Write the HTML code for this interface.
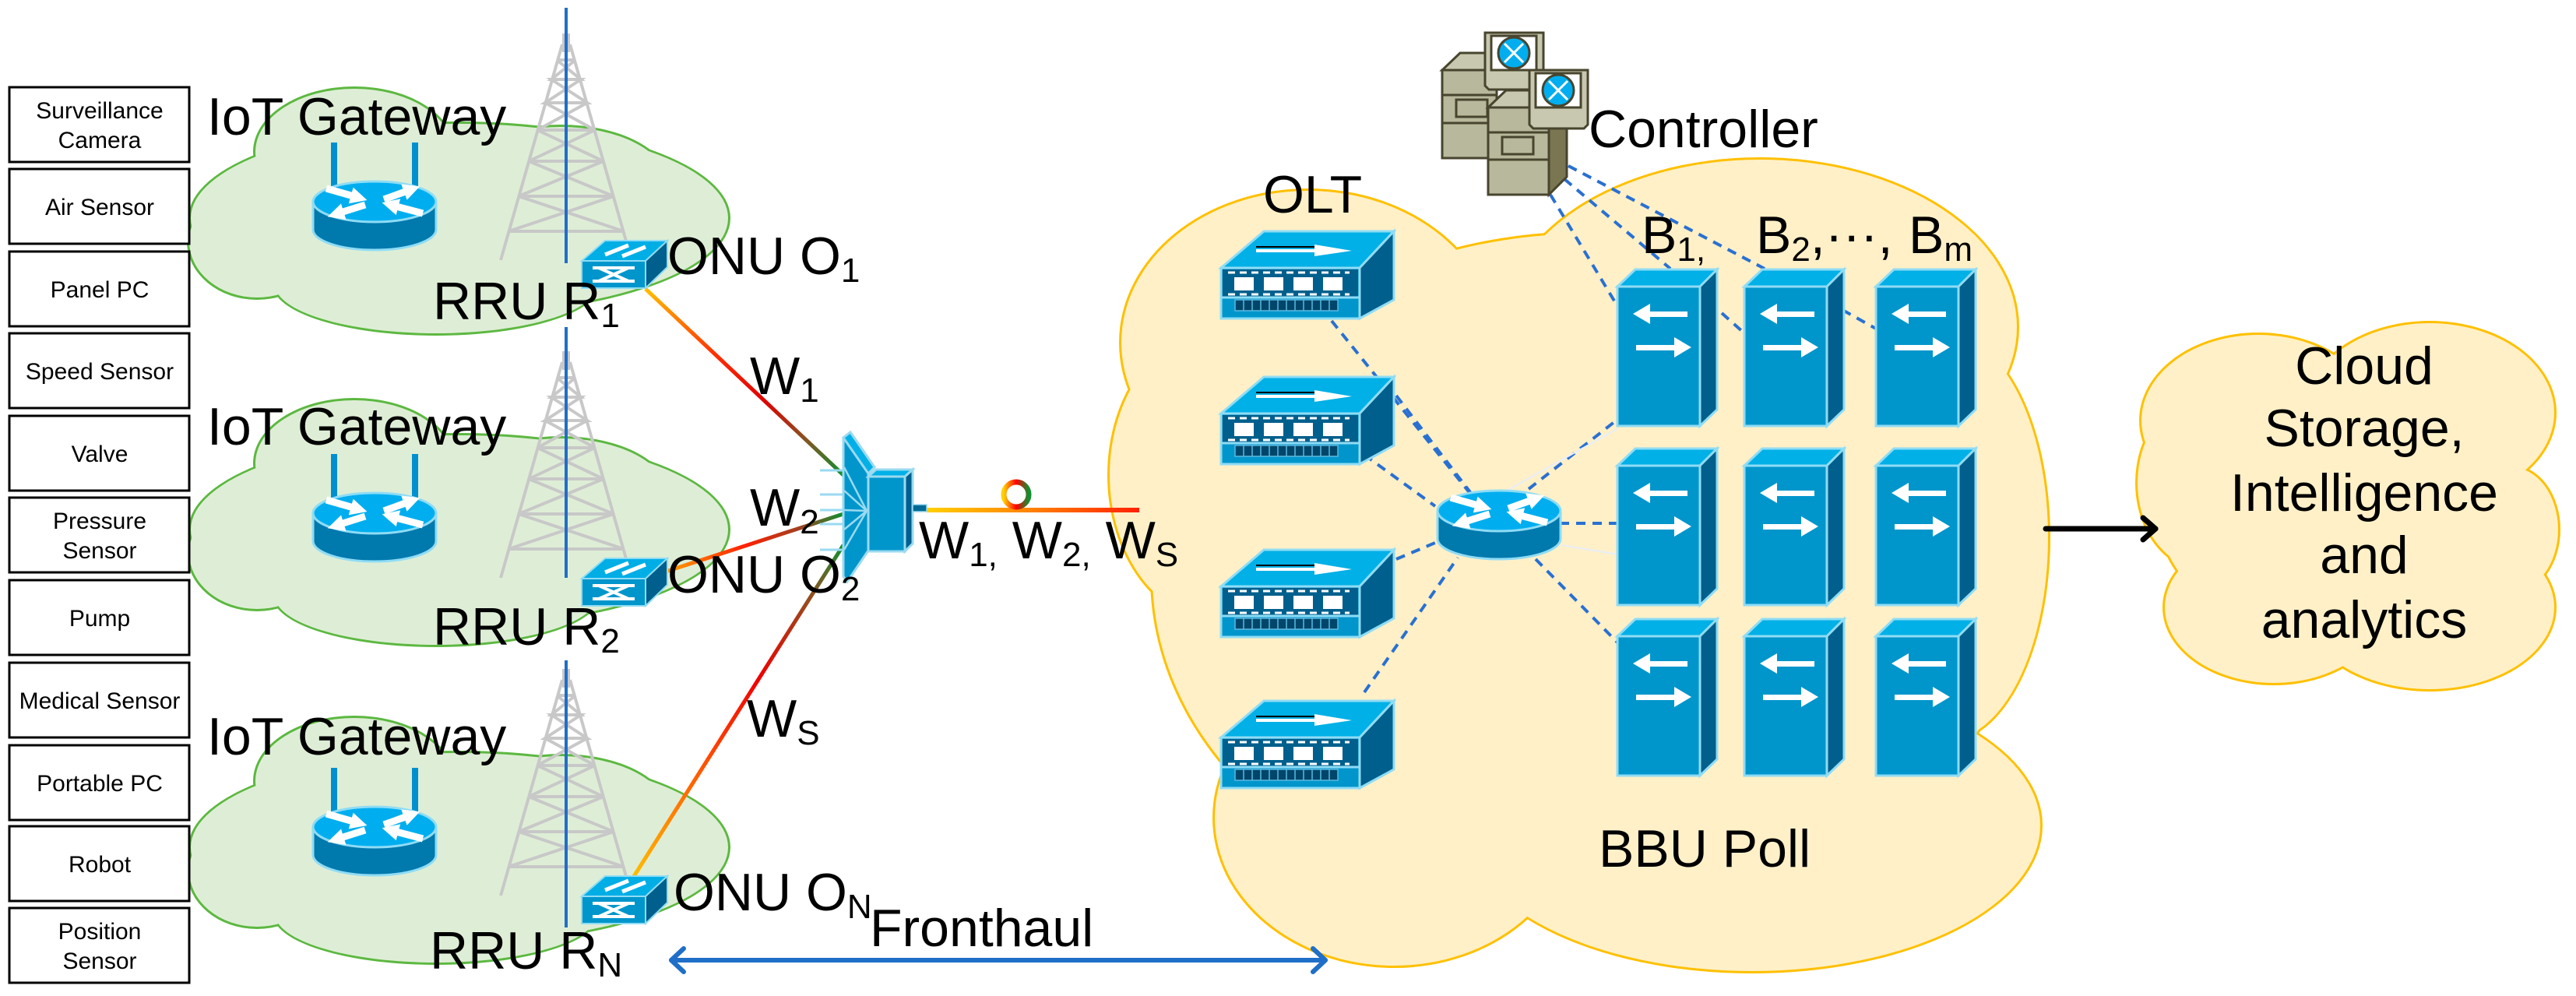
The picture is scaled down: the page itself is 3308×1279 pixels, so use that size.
<!DOCTYPE html>
<html><head><meta charset="utf-8"><style>
html,body{margin:0;padding:0;background:#fff;}
svg{display:block;}
text{font-family:"Liberation Sans",Arial,sans-serif;fill:#000;}
</style></head><body>
<svg width="3308" height="1279" viewBox="0 0 3308 1279" xmlns="http://www.w3.org/2000/svg">
<defs>
<marker id="ah" viewBox="0 0 10 10" refX="5" refY="5" markerWidth="2.4" markerHeight="2.4" orient="auto"><path d="M0,0 L10,5 L0,10 Z" fill="#fff"/></marker>
<g id="router">
 <path d="M-79,0 L-79,36 A79,26 0 0 0 79,36 L79,0 Z" fill="#0079ad" stroke="#8fdcf5" stroke-width="3"/>
 <ellipse cx="0" cy="0" rx="79" ry="26" fill="#00aeef" stroke="#8fdcf5" stroke-width="3"/>
 <g stroke="#fff" stroke-width="9" fill="none" marker-end="url(#ah)">
  <line x1="-62" y1="-17" x2="-20" y2="-5"/>
  <line x1="12" y1="-3" x2="48" y2="-16"/>
  <line x1="-12" y1="4" x2="-50" y2="16"/>
  <line x1="62" y1="15" x2="20" y2="4"/>
 </g>
</g>
<g id="tower" stroke="#c8c8c8" stroke-width="4" fill="none">
 <line x1="-5" y1="0" x2="-84" y2="277"/><line x1="5" y1="0" x2="84" y2="277"/>
 <line x1="-3" y1="-14" x2="-3" y2="10"/><line x1="3" y1="-14" x2="3" y2="10"/>
 <polyline points="-12,20 19,45 -19,45 27,75 -27,75 37,110 -37,110 48,150 -48,150 61,195 -61,195 74,240 -74,240"/>
 <polyline points="12,20 -19,45 19,45 -27,75 27,75 -37,110 37,110 -48,150 48,150 -61,195 61,195 -74,240 74,240"/>
 <line x1="-12" y1="20" x2="12" y2="20"/>
</g>
<g id="onu">
 <polygon points="0,0 30,-26 110,-26 82,0" fill="#00aee6" stroke="#8fdcf5" stroke-width="2"/>
 <polygon points="82,0 110,-26 110,8 82,35" fill="#005f8c" stroke="#8fdcf5" stroke-width="2"/>
 <rect x="0" y="0" width="82" height="35" fill="#0096cc" stroke="#8fdcf5" stroke-width="2"/>
 <g stroke="#fff" stroke-width="4"><line x1="14" y1="9" x2="68" y2="9"/><line x1="14" y1="26" x2="68" y2="26"/><line x1="22" y1="9" x2="60" y2="26"/><line x1="22" y1="26" x2="60" y2="9"/></g>
 <g stroke="#fff" stroke-width="5"><line x1="30" y1="-8" x2="60" y2="-20"/><line x1="52" y1="-6" x2="82" y2="-18"/></g>
</g>
<g id="olt">
 <polygon points="0,0 55,-47 222,-47 178,0" fill="#00b0e6" stroke="#8fdcf5" stroke-width="3"/>
 <polygon points="178,0 222,-47 222,41 178,65" fill="#005f8c" stroke="#8fdcf5" stroke-width="3"/>
 <rect x="0" y="0" width="178" height="65" fill="#0096cc" stroke="#8fdcf5" stroke-width="3"/>
 <rect x="2" y="2" width="174" height="36" fill="#005f8c"/>
 <line x1="0" y1="38" x2="178" y2="38" stroke="#8fdcf5" stroke-width="3"/>
 <g fill="#fff"><rect x="17" y="12" width="25" height="17"/><rect x="55" y="12" width="25" height="17"/><rect x="93" y="12" width="25" height="17"/><rect x="131" y="12" width="25" height="17"/></g>
 <line x1="9" y1="6" x2="165" y2="6" stroke="#fff" stroke-width="3" stroke-dasharray="9,6"/>
 <line x1="9" y1="34" x2="165" y2="34" stroke="#fff" stroke-width="3" stroke-dasharray="9,6"/>
 <rect x="18" y="41" width="132" height="14" fill="#00466a" stroke="#5ab8e0" stroke-width="1.5"/>
 <g stroke="#5ab8e0" stroke-width="1.5"><line x1="29" y1="41" x2="29" y2="55"/><line x1="40" y1="41" x2="40" y2="55"/><line x1="51" y1="41" x2="51" y2="55"/><line x1="62" y1="41" x2="62" y2="55"/><line x1="73" y1="41" x2="73" y2="55"/><line x1="84" y1="41" x2="84" y2="55"/><line x1="95" y1="41" x2="95" y2="55"/><line x1="106" y1="41" x2="106" y2="55"/><line x1="117" y1="41" x2="117" y2="55"/><line x1="128" y1="41" x2="128" y2="55"/><line x1="139" y1="41" x2="139" y2="55"/></g>
 <polygon points="45,-24 120,-24 120,-30 168,-22 120,-15 120,-20 45,-20" fill="#fff"/>
 <line x1="45" y1="-27" x2="120" y2="-27" stroke="#000" stroke-width="2"/>
</g>
<g id="bbu">
 <polygon points="0,0 23,-22 128,-22 106,0" fill="#00b0e6" stroke="#8fdcf5" stroke-width="3"/>
 <polygon points="106,0 128,-22 128,158 106,179" fill="#005f8c" stroke="#8fdcf5" stroke-width="3"/>
 <rect x="0" y="0" width="106" height="179" fill="#0096cc" stroke="#8fdcf5" stroke-width="3"/>
 <polygon points="20,35 42,22 42,32 90,32 90,39 42,39 42,48" fill="#fff"/>
 <polygon points="24,75 73,75 73,65 95,78 73,91 73,82 24,82" fill="#fff"/>
</g>
<linearGradient id="g1" gradientUnits="userSpaceOnUse" x1="829" y1="371" x2="1083" y2="610"><stop offset="0" stop-color="#ffc000"/><stop offset="0.35" stop-color="#ff3000"/><stop offset="0.6" stop-color="#e00000"/><stop offset="0.8" stop-color="#8a5020"/><stop offset="1" stop-color="#109030"/></linearGradient>
<linearGradient id="g2" gradientUnits="userSpaceOnUse" x1="855" y1="734" x2="1083" y2="660"><stop offset="0" stop-color="#ffa000"/><stop offset="0.45" stop-color="#ff2000"/><stop offset="0.75" stop-color="#a04020"/><stop offset="1" stop-color="#109030"/></linearGradient>
<linearGradient id="g3" gradientUnits="userSpaceOnUse" x1="811" y1="1130" x2="1083" y2="700"><stop offset="0" stop-color="#ffc000"/><stop offset="0.35" stop-color="#ff5000"/><stop offset="0.6" stop-color="#f00000"/><stop offset="0.85" stop-color="#905020"/><stop offset="1" stop-color="#109030"/></linearGradient>
<linearGradient id="g4" gradientUnits="userSpaceOnUse" x1="1190" y1="0" x2="1463" y2="0"><stop offset="0" stop-color="#ffd000"/><stop offset="0.5" stop-color="#ff8000"/><stop offset="1" stop-color="#ff2000"/></linearGradient>
<linearGradient id="g5" x1="0" y1="0" x2="1" y2="0"><stop offset="0" stop-color="#ffd000"/><stop offset="0.5" stop-color="#ff0000"/><stop offset="1" stop-color="#109030"/></linearGradient>
</defs>

<g id="gc">
 <g fill="#5cb840">
  <ellipse cx="590" cy="280" rx="348" ry="124"/>
  <ellipse cx="455" cy="195" rx="130" ry="84"/>
  <ellipse cx="720" cy="235" rx="140" ry="75"/>
  <ellipse cx="560" cy="365" rx="210" ry="66"/>
  <ellipse cx="330" cy="310" rx="90" ry="75"/>
 </g>
 <g fill="#deeed6">
  <ellipse cx="590" cy="280" rx="345" ry="121"/>
  <ellipse cx="455" cy="195" rx="127" ry="81"/>
  <ellipse cx="720" cy="235" rx="137" ry="72"/>
  <ellipse cx="560" cy="365" rx="207" ry="63"/>
  <ellipse cx="330" cy="310" rx="87" ry="72"/>
 </g>
</g>
<use href="#gc" transform="translate(0,400)"/>
<use href="#gc" transform="translate(0,808)"/>

<g fill="#ffc000">
 <ellipse cx="2040" cy="740" rx="563" ry="443"/>
 <ellipse cx="1680" cy="440" rx="243" ry="198"/>
 <ellipse cx="2260" cy="420" rx="333" ry="218"/>
 <ellipse cx="1565" cy="610" rx="143" ry="190"/>
 <ellipse cx="1790" cy="1050" rx="233" ry="193"/>
 <ellipse cx="2250" cy="1060" rx="373" ry="190"/>
 <ellipse cx="2500" cy="690" rx="133" ry="263"/>
</g>
<g fill="#fff0c8">
 <ellipse cx="2040" cy="740" rx="560" ry="440"/>
 <ellipse cx="1680" cy="440" rx="240" ry="195"/>
 <ellipse cx="2260" cy="420" rx="330" ry="215"/>
 <ellipse cx="1565" cy="610" rx="140" ry="187"/>
 <ellipse cx="1790" cy="1050" rx="230" ry="190"/>
 <ellipse cx="2250" cy="1060" rx="370" ry="187"/>
 <ellipse cx="2500" cy="690" rx="130" ry="260"/>
</g>

<g fill="#ffc000">
 <ellipse cx="3010" cy="650" rx="243" ry="183"/>
 <ellipse cx="2900" cy="540" rx="153" ry="113"/>
 <ellipse cx="3120" cy="530" rx="163" ry="118"/>
 <ellipse cx="2830" cy="620" rx="88" ry="113"/>
 <ellipse cx="2920" cy="780" rx="143" ry="100"/>
 <ellipse cx="3120" cy="780" rx="163" ry="108"/>
 <ellipse cx="3225" cy="680" rx="63" ry="83"/>
</g>
<g fill="#fff0c8">
 <ellipse cx="3010" cy="650" rx="240" ry="180"/>
 <ellipse cx="2900" cy="540" rx="150" ry="110"/>
 <ellipse cx="3120" cy="530" rx="160" ry="115"/>
 <ellipse cx="2830" cy="620" rx="85" ry="110"/>
 <ellipse cx="2920" cy="780" rx="140" ry="97"/>
 <ellipse cx="3120" cy="780" rx="160" ry="105"/>
 <ellipse cx="3225" cy="680" rx="60" ry="80"/>
</g>

<g fill="#fff" stroke="#000" stroke-width="3">
 <rect x="12" y="112" width="231" height="96"/><rect x="12" y="217" width="231" height="96"/>
 <rect x="12" y="323" width="231" height="96"/><rect x="12" y="428" width="231" height="96"/>
 <rect x="12" y="534" width="231" height="96"/><rect x="12" y="639" width="231" height="96"/>
 <rect x="12" y="745" width="231" height="96"/><rect x="12" y="851" width="231" height="96"/>
 <rect x="12" y="957" width="231" height="96"/><rect x="12" y="1061" width="231" height="96"/>
 <rect x="12" y="1166" width="231" height="96"/>
</g>
<g font-size="30" text-anchor="middle">
 <text x="128" y="152">Surveillance</text><text x="128" y="190">Camera</text>
 <text x="128" y="276">Air Sensor</text>
 <text x="128" y="382">Panel PC</text>
 <text x="128" y="487">Speed Sensor</text>
 <text x="128" y="593">Valve</text>
 <text x="128" y="679">Pressure</text><text x="128" y="717">Sensor</text>
 <text x="128" y="804">Pump</text>
 <text x="128" y="910">Medical Sensor</text>
 <text x="128" y="1016">Portable PC</text>
 <text x="128" y="1120">Robot</text>
 <text x="128" y="1206">Position</text><text x="128" y="1244">Sensor</text>
</g>

<use href="#tower" transform="translate(727,57)"/>
<use href="#tower" transform="translate(727,465)"/>
<use href="#tower" transform="translate(727,873)"/>
<g stroke="#1f6fc8" stroke-width="4">
 <line x1="727" y1="10" x2="727" y2="338"/><line x1="727" y1="420" x2="727" y2="742"/><line x1="727" y1="848" x2="727" y2="1191"/>
</g>

<g>
 <rect x="425" y="183" width="8" height="70" fill="#0090d0"/><rect x="529" y="183" width="8" height="70" fill="#0090d0"/>
 <use href="#router" transform="translate(481,259)"/>
 <rect x="425" y="583" width="8" height="70" fill="#0090d0"/><rect x="529" y="583" width="8" height="70" fill="#0090d0"/>
 <use href="#router" transform="translate(481,659)"/>
 <rect x="425" y="986" width="8" height="70" fill="#0090d0"/><rect x="529" y="986" width="8" height="70" fill="#0090d0"/>
 <use href="#router" transform="translate(481,1062)"/>
</g>

<line x1="829" y1="371" x2="1083" y2="610" stroke="url(#g1)" stroke-width="5"/>
<line x1="855" y1="734" x2="1083" y2="660" stroke="url(#g2)" stroke-width="5"/>
<line x1="811" y1="1130" x2="1083" y2="700" stroke="url(#g3)" stroke-width="5"/>
<line x1="1190" y1="655" x2="1463" y2="655" stroke="url(#g4)" stroke-width="6"/>
<circle cx="1305" cy="635" r="16" fill="none" stroke="url(#g5)" stroke-width="7"/>

<use href="#onu" transform="translate(747,335)"/>
<use href="#onu" transform="translate(747,743)"/>
<use href="#onu" transform="translate(747,1151)"/>

<g stroke="#9adaf0" stroke-width="3">
 <line x1="1053" y1="604" x2="1083" y2="604"/><line x1="1053" y1="635" x2="1083" y2="635"/><line x1="1053" y1="655" x2="1083" y2="655"/><line x1="1053" y1="673" x2="1083" y2="673"/><line x1="1053" y1="706" x2="1083" y2="706"/>
</g>
<polygon points="1083,562 1092,555 1123,600 1115,608 1115,707 1088,747 1083,740" fill="#0096cc" stroke="#9adaf0" stroke-width="3"/>
<polygon points="1083,562 1092,555 1123,600 1115,608" fill="#00b0e6" stroke="#9adaf0" stroke-width="3"/>
<g stroke="#9adaf0" stroke-width="2.5"><line x1="1113" y1="656" x2="1084" y2="600"/><line x1="1113" y1="656" x2="1084" y2="630"/><line x1="1113" y1="656" x2="1084" y2="655"/><line x1="1113" y1="656" x2="1084" y2="680"/><line x1="1113" y1="656" x2="1084" y2="706"/></g>
<polygon points="1115,612 1125,603 1172,603 1162,612" fill="#00b0e6" stroke="#9adaf0" stroke-width="3"/>
<polygon points="1162,612 1172,603 1172,698 1162,708" fill="#005f8c" stroke="#9adaf0" stroke-width="3"/>
<rect x="1115" y="612" width="47" height="96" fill="#0096cc" stroke="#9adaf0" stroke-width="3"/>
<rect x="1172" y="648" width="18" height="9" fill="#006a96" stroke="#9adaf0" stroke-width="1.5"/>

<g stroke="#2a70d0" stroke-width="4" stroke-dasharray="12,9" fill="none">
 <line x1="1710" y1="412" x2="1893" y2="640"/>
 <line x1="1793" y1="508" x2="1891" y2="636"/>
 <line x1="1752" y1="584" x2="1843" y2="650"/>
 <line x1="1793" y1="718" x2="1843" y2="697"/>
 <line x1="1752" y1="889" x2="1872" y2="716"/>
 <line x1="1963" y1="628" x2="2078" y2="538"/>
 <line x1="2003" y1="672" x2="2078" y2="672"/>
 <line x1="1972" y1="718" x2="2078" y2="826"/>
 <line x1="1991" y1="250" x2="2077" y2="393"/>
 <line x1="2009" y1="230" x2="2145" y2="345"/>
 <line x1="2211" y1="402" x2="2239" y2="427"/>
 <line x1="2014" y1="213" x2="2266" y2="345"/>
 <line x1="2366" y1="398" x2="2409" y2="422"/>
</g>
<g stroke="#e8eef8" stroke-width="2"><line x1="1935" y1="630" x2="2078" y2="550"/><line x1="2005" y1="700" x2="2078" y2="712"/></g>

<use href="#olt" transform="translate(1568,344)"/>
<use href="#olt" transform="translate(1568,531)"/>
<use href="#olt" transform="translate(1568,753)"/>
<use href="#olt" transform="translate(1568,947)"/>

<use href="#router" transform="translate(1925,656)"/>

<use href="#bbu" transform="translate(2077,368)"/>
<use href="#bbu" transform="translate(2240,368)"/>
<use href="#bbu" transform="translate(2409,368)"/>
<use href="#bbu" transform="translate(2077,598)"/>
<use href="#bbu" transform="translate(2240,598)"/>
<use href="#bbu" transform="translate(2409,598)"/>
<use href="#bbu" transform="translate(2077,817)"/>
<use href="#bbu" transform="translate(2240,817)"/>
<use href="#bbu" transform="translate(2409,817)"/>

<g stroke="#48452e" stroke-width="3">
 <polygon points="1852,90 1875,68 1930,68 1930,90" fill="#c8c8b0"/>
 <rect x="1852" y="90" width="70" height="113" fill="#b8b89c"/>
 <line x1="1852" y1="122" x2="1922" y2="122"/><line x1="1852" y1="158" x2="1922" y2="158"/>
 <rect x="1870" y="128" width="40" height="22" fill="#b8b89c"/>
 <polygon points="1907,42 1982,42 1982,108 1977,115 1912,115 1907,110" fill="#c8c8b0"/>
 <rect x="1915" y="46" width="58" height="44" fill="#fff"/>
 <circle cx="1944" cy="68" r="20" fill="#00aeef"/>
 <polygon points="1911,138 1934,116 2000,116 1990,138" fill="#c8c8b0"/>
 <polygon points="1989,138 2012,116 2012,227 1989,250" fill="#7a7652"/>
 <rect x="1911" y="138" width="78" height="112" fill="#b8b89c"/>
 <line x1="1911" y1="170" x2="1989" y2="170"/><line x1="1911" y1="205" x2="1989" y2="205"/>
 <rect x="1929" y="176" width="40" height="22" fill="#b8b89c"/>
 <polygon points="1964,90 2039,90 2039,160 2034,165 1969,165 1964,160" fill="#c8c8b0"/>
 <rect x="1972" y="94" width="58" height="44" fill="#fff"/>
 <circle cx="2001" cy="116" r="20" fill="#00aeef"/>
</g>
<g stroke="#fff" stroke-width="3"><line x1="1932" y1="56" x2="1956" y2="80"/><line x1="1932" y1="80" x2="1956" y2="56"/><line x1="1989" y1="104" x2="2013" y2="128"/><line x1="1989" y1="128" x2="2013" y2="104"/></g>

<g stroke="#1f6fc8" stroke-width="6" fill="none" stroke-linecap="round" stroke-linejoin="round">
 <line x1="862" y1="1233" x2="1702" y2="1233"/>
 <polyline points="878,1218 862,1233 878,1248"/>
 <polyline points="1686,1218 1702,1233 1686,1248"/>
</g>
<g stroke="#000" stroke-width="7" fill="none" stroke-linecap="round" stroke-linejoin="round">
 <line x1="2627" y1="679" x2="2768" y2="679"/>
 <polyline points="2752,665 2768,679 2752,693"/>
</g>

<g font-size="68">
 <text x="266" y="173">IoT Gateway</text>
 <text x="266" y="571">IoT Gateway</text>
 <text x="266" y="969">IoT Gateway</text>
 <text x="857" y="352">ONU O<tspan font-size="44" dy="10">1</tspan></text>
 <text x="857" y="761">ONU O<tspan font-size="44" dy="10">2</tspan></text>
 <text x="865" y="1169">ONU O<tspan font-size="44" dy="10">N</tspan></text>
 <text x="556" y="410">RRU R<tspan font-size="44" dy="10">1</tspan></text>
 <text x="556" y="828">RRU R<tspan font-size="44" dy="10">2</tspan></text>
 <text x="552" y="1244">RRU R<tspan font-size="44" dy="10">N</tspan></text>
 <text x="963" y="506">W<tspan font-size="44" dy="10">1</tspan></text>
 <text x="963" y="675">W<tspan font-size="44" dy="10">2</tspan></text>
 <text x="959" y="946">W<tspan font-size="44" dy="10">S</tspan></text>
 <text x="1180" y="717">W<tspan font-size="44" dy="10">1,</tspan><tspan dy="-10"> W</tspan><tspan font-size="44" dy="10">2,</tspan><tspan dy="-10"> W</tspan><tspan font-size="44" dy="10">S</tspan></text>
 <text x="1117" y="1215">Fronthaul</text>
 <text x="1622" y="273">OLT</text>
 <text x="2040" y="189">Controller</text>
 <text x="2108" y="325">B<tspan font-size="44" dy="10">1,</tspan></text>
 <text x="2255" y="325">B<tspan font-size="44" dy="10">2</tspan><tspan dy="-10">,···,</tspan></text>
 <text x="2451" y="325">B<tspan font-size="44" dy="10">m</tspan></text>
 <text x="2053" y="1113">BBU Poll</text>
 <g text-anchor="middle">
  <text x="3036" y="493">Cloud</text>
  <text x="3036" y="573">Storage,</text>
  <text x="3036" y="656">Intelligence</text>
  <text x="3036" y="736">and</text>
  <text x="3036" y="819">analytics</text>
 </g>
</g>
</svg>
</body></html>
